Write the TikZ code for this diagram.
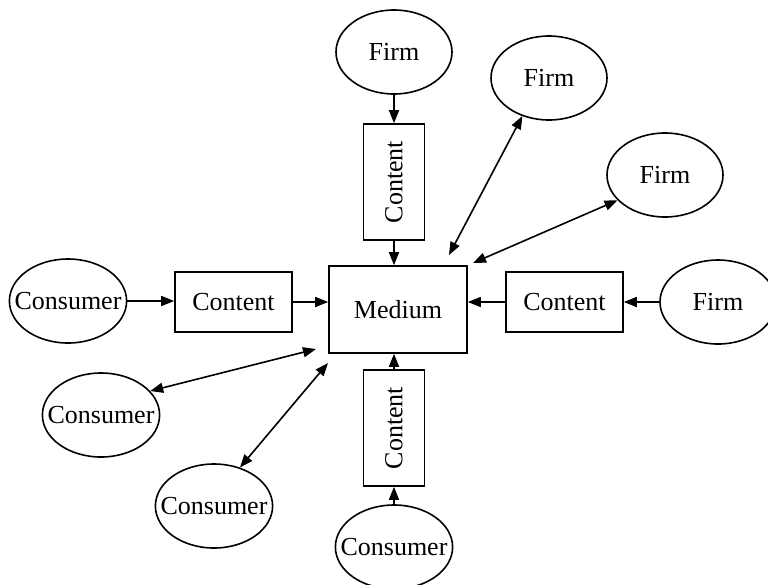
\documentclass[tikz,border=0pt]{standalone}
\usepackage{fontspec}
\setmainfont{Liberation Serif}
\usetikzlibrary{shapes.geometric,arrows.meta}
\begin{document}
\begin{tikzpicture}[x=1pt,y=-1pt,
  font=\fontsize{26}{30}\selectfont,
  every path/.style={line width=1.6pt},
  oval/.style={draw,ellipse,line width=1.6pt,minimum width=116pt,minimum height=84pt,inner xsep=-12pt,inner ysep=0pt},
  box/.style={draw,rectangle,line width=1.6pt,inner sep=0pt},
  arr/.style={-{Triangle[length=13pt,width=10pt]}},
  both/.style={{Triangle[length=13pt,width=10pt]}-{Triangle[length=13pt,width=10pt]}}]
\useasboundingbox (0,0) rectangle (768,584);

% hub
\node[box,minimum width=138pt,minimum height=87pt] (m) at (398,309.5) {Medium};

% content boxes
\node[box,minimum width=116pt,minimum height=61pt,rotate=90] (ct) at (394,182) {Content};
\node[box,minimum width=116pt,minimum height=61pt,rotate=90] (cb) at (394,428) {Content};
\node[box,minimum width=117pt,minimum height=60pt] (cl) at (233.5,302) {Content};
\node[box,minimum width=117pt,minimum height=60pt] (cr) at (564.5,302) {Content};

% firms
\node[oval] (f1) at (394,52) {Firm};
\node[oval] (f2) at (549,78) {Firm};
\node[oval] (f3) at (665,175) {Firm};
\node[oval] (f4) at (718,302) {Firm};

% consumers
\node[oval] (k1) at (68,301) {Consumer};
\node[oval] (k2) at (101,415) {Consumer};
\node[oval] (k3) at (214,506) {Consumer};
\node[oval] (k4) at (394,547) {Consumer};

% free ends near the hub
\coordinate (e2) at (449,255);
\coordinate (e3) at (473,263);
\coordinate (ek2) at (316,349);
\coordinate (ek3) at (328,363);

% flows through content
\draw[arr] (f1) -- (ct);
\draw[arr] (ct) -- (ct |- m.north);
\draw[arr] (k4) -- (cb);
\draw[arr] (cb) -- (cb |- m.south);
\draw[arr] (k1) -- (k1 -| cl.west);
\draw[arr] (cl) -- (cl -| m.west);
\draw[arr] (f4) -- (cr);
\draw[arr] (cr) -- (cr -| m.east);

% two-way links
\draw[both] (f2.235) -- (e2);
\draw[both] (f3.208) -- (e3);
\draw[both] (k2.26) -- (ek2);
\draw[both] (k3.56) -- (ek3);
\end{tikzpicture}
\end{document}
